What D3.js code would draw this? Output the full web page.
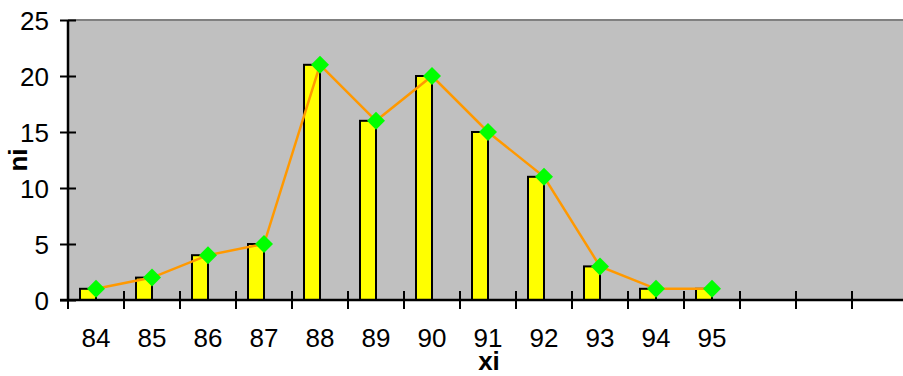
<!DOCTYPE html>
<html>
<head>
<meta charset="utf-8">
<script src="https://cdn.jsdelivr.net/npm/d3@7"></script>
<style>
  html, body { margin: 0; padding: 0; background: #fff; overflow: hidden; }
  svg { display: block; }
  text { font-family: "Liberation Sans", Arial, sans-serif; fill: #000; }
</style>
</head>
<body>
<svg id="chart" width="903" height="376"></svg>
<script>
// Frequency table: observed values xi and their counts ni
const categories = ["84", "85", "86", "87", "88", "89", "90", "91", "92", "93", "94", "95", "", "", ""];
const counts = [1, 2, 4, 5, 21, 16, 20, 15, 11, 3, 1, 1];
const yTicks = [0, 5, 10, 15, 20, 25];

const svg = d3.select("#chart");
const plotLeft = 68, plotTop = 20, bandW = 56;
const plotRight = plotLeft + bandW * categories.length;
const plotBottom = 300;
const fontSize = "26px";

const x = d3.scaleBand()
  .domain(d3.range(categories.length))
  .range([plotLeft, plotRight])
  .padding(0);

const y = d3.scaleLinear().domain([0, 25]).range([plotBottom, plotTop]);

// plot area
svg.append("rect")
  .attr("x", plotLeft).attr("y", plotTop)
  .attr("width", plotRight - plotLeft).attr("height", plotBottom - plotTop)
  .attr("fill", "#C0C0C0");
svg.append("line")
  .attr("x1", plotLeft).attr("x2", plotRight)
  .attr("y1", plotTop).attr("y2", plotTop)
  .attr("stroke", "#808080").attr("stroke-width", 2);

// bars: right edge sits on the category centre
const barW = 16;
svg.append("g").selectAll("rect")
  .data(counts)
  .join("rect")
  .attr("x", (d, i) => x(i) + x.bandwidth() / 2 - barW)
  .attr("y", d => y(d))
  .attr("width", barW)
  .attr("height", d => y(0) - y(d))
  .attr("fill", "#FFFF00")
  .attr("stroke", "#000")
  .attr("stroke-width", 2);

// frequency polygon
const line = d3.line()
  .x((d, i) => x(i) + x.bandwidth() / 2)
  .y(d => y(d));
svg.append("path")
  .datum(counts)
  .attr("d", line)
  .attr("fill", "none")
  .attr("stroke", "#FF9900")
  .attr("stroke-width", 2.5);

// diamond markers (size = 2·r², r = half-diagonal)
const diamondType = {
  draw(ctx, size) {
    const r = Math.sqrt(size / 2);
    ctx.moveTo(0, -r); ctx.lineTo(r, 0); ctx.lineTo(0, r); ctx.lineTo(-r, 0); ctx.closePath();
  }
};
const diamond = d3.symbol().type(diamondType).size(2 * 9 * 9);
svg.append("g").selectAll("path")
  .data(counts)
  .join("path")
  .attr("d", diamond)
  .attr("transform", (d, i) => `translate(${x(i) + x.bandwidth() / 2},${y(d)})`)
  .attr("fill", "#00FF00");

// y axis
const yAxis = d3.axisLeft(y).tickValues(yTicks).tickSize(0).tickPadding(0);
const yg = svg.append("g").attr("transform", `translate(${plotLeft},0)`).call(yAxis);
yg.select(".domain").remove();
yg.selectAll(".tick text")
  .attr("x", -19).attr("dy", "0.36em")
  .style("font-size", fontSize).style("font-family", "Liberation Sans, Arial, sans-serif");
yg.selectAll(".tick").append("line")
  .attr("x1", -8).attr("x2", 8)
  .attr("stroke", "#000").attr("stroke-width", 2);
svg.append("line")
  .attr("x1", plotLeft).attr("x2", plotLeft)
  .attr("y1", plotTop).attr("y2", plotBottom + 1)
  .attr("stroke", "#000").attr("stroke-width", 2.5);

// x axis
const xAxis = d3.axisBottom(x).tickFormat(i => categories[i]).tickSize(0).tickPadding(0);
const xg = svg.append("g").attr("transform", `translate(0,${plotBottom})`).call(xAxis);
xg.select(".domain").remove();
xg.selectAll(".tick text")
  .attr("y", 47).attr("dy", 0)
  .style("font-size", fontSize).style("font-family", "Liberation Sans, Arial, sans-serif");
svg.append("g").selectAll("line")
  .data(d3.range(categories.length + 1))
  .join("line")
  .attr("x1", i => plotLeft + i * x.step()).attr("x2", i => plotLeft + i * x.step())
  .attr("y1", plotBottom - 9).attr("y2", plotBottom + 9)
  .attr("stroke", "#000").attr("stroke-width", 2);
svg.append("line")
  .attr("x1", plotLeft - 8).attr("x2", plotRight)
  .attr("y1", plotBottom).attr("y2", plotBottom)
  .attr("stroke", "#000").attr("stroke-width", 2.5);

// axis titles
svg.append("text")
  .attr("x", (plotLeft + plotRight) / 2 + 1).attr("y", 370)
  .attr("text-anchor", "middle")
  .style("font-size", fontSize).style("font-weight", "bold")
  .text("xi");
svg.append("text")
  .attr("transform", `translate(27,${(plotTop + plotBottom) / 2}) rotate(-90)`)
  .attr("text-anchor", "middle")
  .style("font-size", fontSize).style("font-weight", "bold")
  .text("ni");
</script>
</body>
</html>
